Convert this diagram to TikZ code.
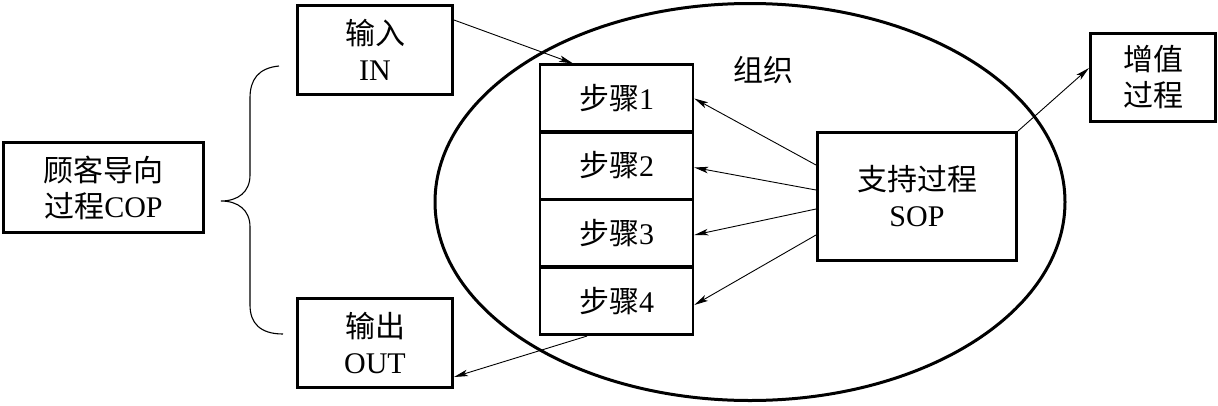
\documentclass[tikz,border=0pt]{standalone}
\usepackage{fontspec}
\setmainfont{Liberation Serif}
\newfontfamily\cjk{Noto Sans CJK SC}
\usetikzlibrary{arrows.meta,shapes.geometric}
\newcommand\zh[1]{{\cjk #1}}
\begin{document}
\begin{tikzpicture}[x=1pt,y=-1pt,
  txt/.style={font=\fontsize{30}{36}\selectfont,align=center},
  box/.style={txt,draw,line width=3pt,rectangle,inner sep=0pt},
  stepbox/.style={txt,draw,line width=2.6pt,rectangle,inner sep=0pt,minimum width=153pt,minimum height=67.5pt},
  conn/.style={line width=0.9pt,-{Stealth[length=14pt,width=6.5pt,inset=3.5pt]}},
  bracepath/.style={line width=1.1pt}]
\useasboundingbox (0,0) rectangle (1218,405);
\node[draw,ellipse,line width=3pt,minimum width=630pt,minimum height=397pt,inner sep=0pt] (org) at (750,202) {};
\node[txt] (orglabel) at (763,70) {\zh{组织}};
\node[box,minimum width=200pt,minimum height=90pt] (cop) at (103.5,187.5) {\zh{顾客导向}\\\zh{过程}COP};
\node[box,minimum width=155pt,minimum height=89pt] (in) at (375,50) {\zh{输入}\\IN};
\node[box,minimum width=155pt,minimum height=89pt] (out) at (375,343) {\zh{输出}\\OUT};
\node[box,minimum width=199pt,minimum height=128pt] (sop) at (917,196.5) {\zh{支持过程}\\SOP};
\node[box,minimum width=125pt,minimum height=88pt] (val) at (1153,77.5) {\zh{增值}\\\zh{过程}};
\node[stepbox] (s1) at (616.5,98.5) {\zh{步骤}1};
\node[stepbox] (s2) at (616.5,165.5) {\zh{步骤}2};
\node[stepbox] (s3) at (616.5,233) {\zh{步骤}3};
\node[stepbox] (s4) at (616.5,301) {\zh{步骤}4};
% brace
\coordinate (bt) at (279,66);
\coordinate (bm) at (221,201);
\coordinate (bb) at (283,334);
\draw[bracepath] (bt) .. controls (258,68) and (250,80) .. (250,98)
  -- (250,175) .. controls (250,192) and (238,201) .. (bm)
  .. controls (238,201) and (250,210) .. (250,227)
  -- (250,305) .. controls (250,323) and (260,334) .. (bb);
% connectors
\draw[conn] ([yshift=30pt]in.east) -- ([xshift=-43.5pt]s1.north);
\draw[conn] ([yshift=31.5pt]sop.west) -- (s1.east);
\draw[conn] ([yshift=6.5pt]sop.west) -- ([yshift=-2pt]s2.east);
\draw[conn] ([yshift=-12.5pt]sop.west) -- ([yshift=-2pt]s3.east);
\draw[conn] ([yshift=-38.5pt]sop.west) -- ([yshift=-4pt]s4.east);
\draw[conn] ([xshift=-29.5pt]s4.south) -- ([yshift=-34pt]out.east);
\draw[conn] (sop.north east) -- ([yshift=9.5pt]val.west);
\end{tikzpicture}
\end{document}
